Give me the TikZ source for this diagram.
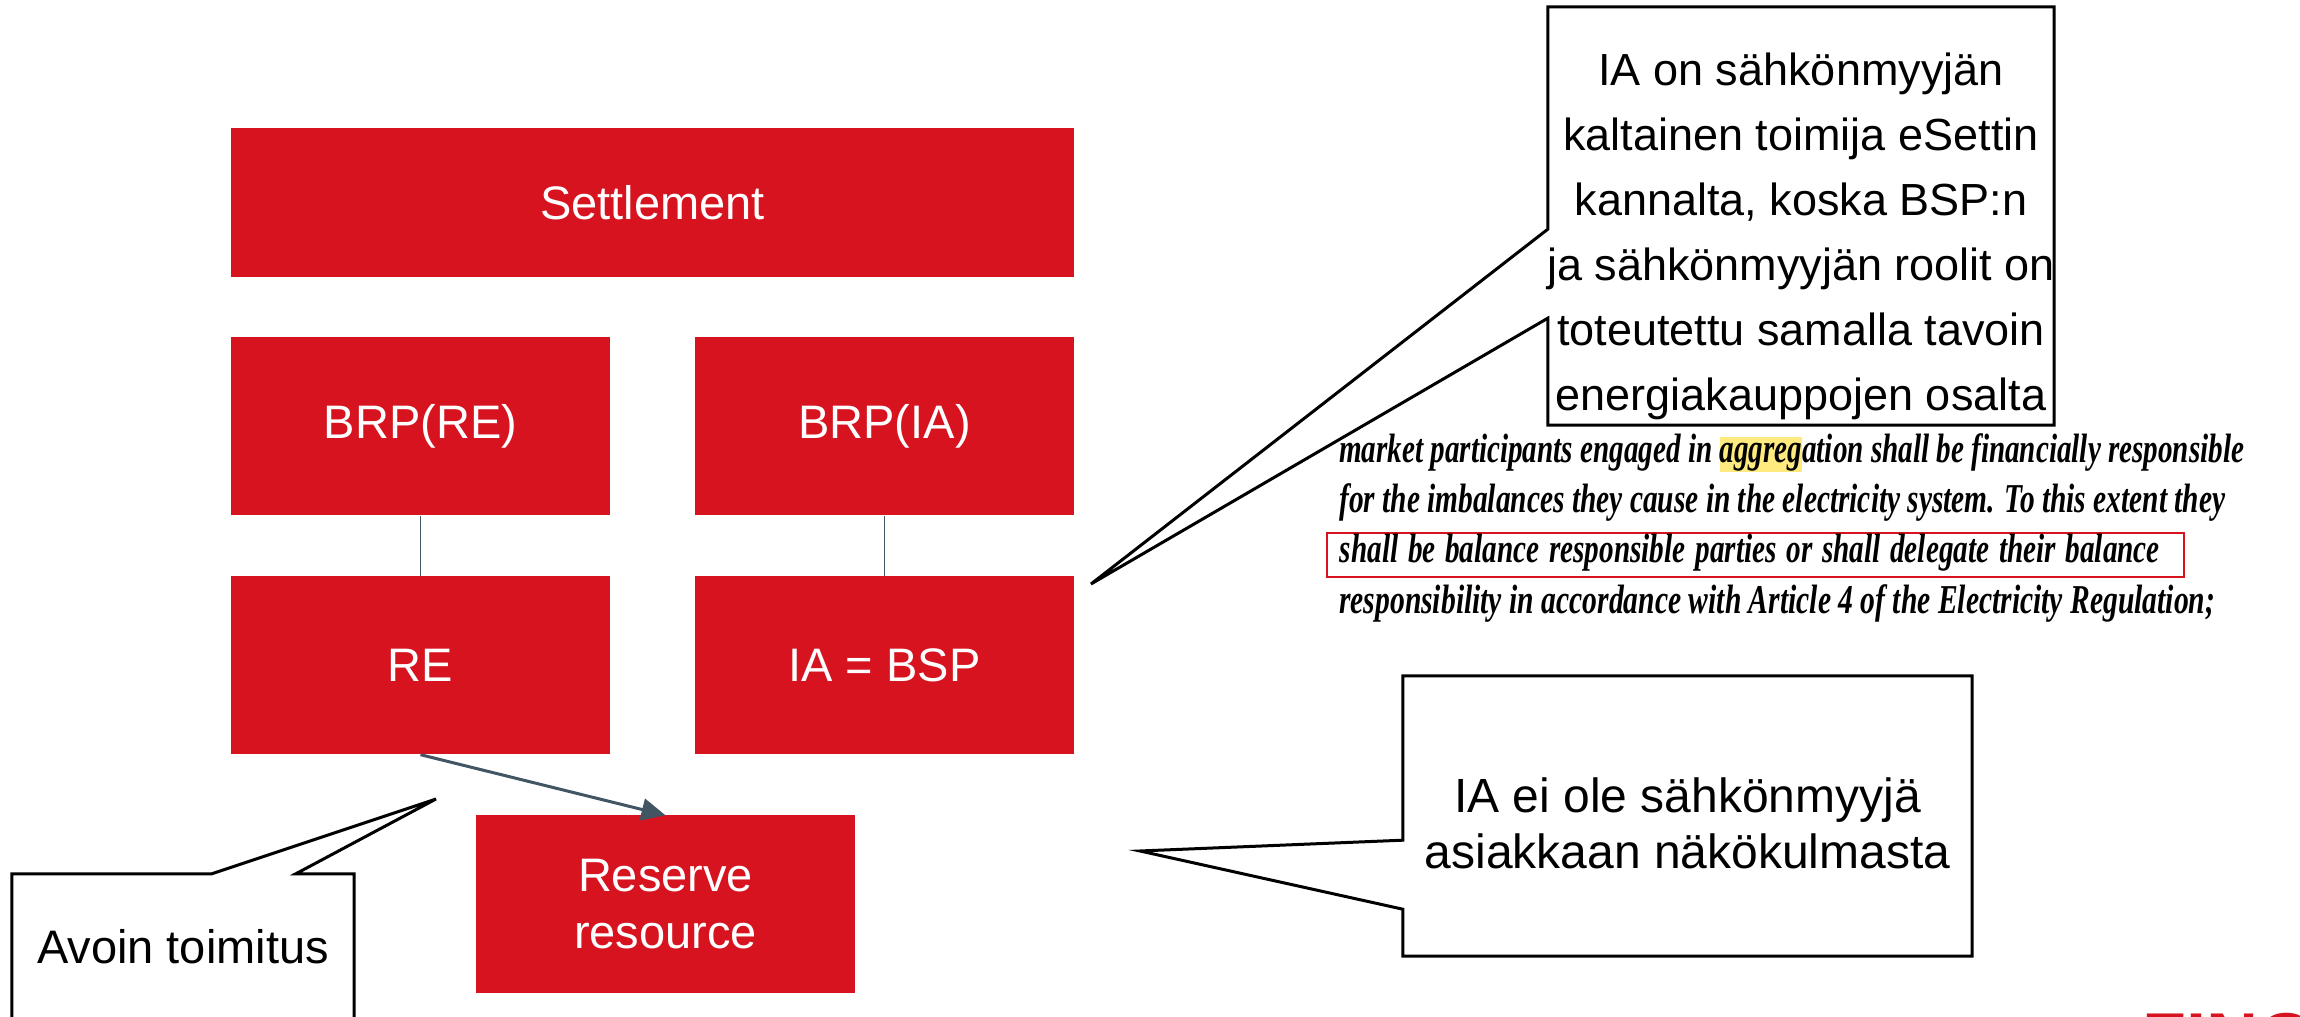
\documentclass[tikz,border=0pt]{standalone}
\usepackage{fontspec}
\usepackage{graphicx}
\setmainfont{Liberation Sans}
\newfontfamily\quotefont{Liberation Serif}
\usetikzlibrary{positioning, arrows.meta, calc}

\definecolor{rolered}{RGB}{214,19,31}
\definecolor{linkgray}{RGB}{66,85,99}
\definecolor{marker}{RGB}{255,234,128}
\setlength{\fboxsep}{0pt}

\begin{document}
\begin{tikzpicture}[x=1pt, y=1pt, node distance=239pt and 464pt, on grid,
  role/.style={fill=rolered, text=white, minimum width=379pt, minimum height=178pt,
    inner sep=0pt, align=center, font=\fontsize{47}{57}\selectfont},
  note/.style={align=center, inner sep=0pt, text=black},
  bubble/.style={draw=black, line width=3pt, line join=miter},
  quoteline/.style={anchor=base west, inner sep=0pt,
    font=\quotefont\bfseries\itshape\fontsize{41}{46}\selectfont}]
  \useasboundingbox (0,0) rectangle (2300,1017);

  % roles
  \node[role, minimum width=843pt, minimum height=149pt] (settle) at (652.5,814.5) {Settlement};
  \node[role] (brpre) at (420.5,590.5) {BRP(RE)};
  \node[role] (brpia) [right=of brpre] {BRP(IA)};
  \node[role] (re) [below=of brpre] {RE};
  \node[role] (bsp) [below=of brpia] {IA = BSP};
  \node[role] (res) [below right=239pt and 245pt of re] {Reserve\\resource};

  \draw[linkgray, line width=1.5pt] (brpre) -- (re);
  \draw[linkgray, line width=1.5pt] (brpia) -- (bsp);
  \draw[linkgray, line width=3pt, -{Triangle[length=24pt, width=22pt]}] (re.south) -- (res.north);

  % callouts
  \node[note, minimum width=506pt, minimum height=418pt] (esett) at (1801,801) {};
  \node[note, font=\fontsize{45}{65}\selectfont] (esetttext) at ($(esett.center)+(0,-20)$)
    {IA on sähkönmyyjän\\kaltainen toimija eSettin\\kannalta, koska BSP:n\\ja sähkönmyyjän roolit on\\toteutettu samalla tavoin\\energiakauppojen osalta};
  \coordinate (esetttip) at (1091,433);
  \draw[bubble] (esett.south west) -- (esett.south east) -- (esett.north east) -- (esett.north west)
    -- ($(esett.south west)+(0,196)$) -- (esetttip) -- ($(esett.south west)+(0,107)$) -- cycle;

  \node[note, minimum width=569pt, minimum height=280pt] (seller) at (1687.5,201) {};
  \node[note, font=\fontsize{48}{56}\selectfont] (sellertext) at ($(seller.center)+(0,-7)$)
    {IA ei ole sähkönmyyjä\\asiakkaan näkökulmasta};
  \coordinate (sellertip) at (1140,166);
  \draw[bubble] (seller.south west) -- (seller.south east) -- (seller.north east) -- (seller.north west)
    -- ($(seller.south west)+(0,116)$) -- (sellertip) -- ($(seller.south west)+(0,47)$) -- cycle;

  \node[note, font=\fontsize{47}{57}\selectfont, minimum width=342pt, minimum height=146pt] (open) at (183,70) {Avoin toimitus};
  \coordinate (opentip) at (436,218);
  \draw[bubble] (open.north west) -- ($(open.north west)+(200,0)$) -- (opentip) -- ($(open.north west)+(284,0)$)
    -- (open.north east) -- (open.south east) -- (open.south west) -- cycle;

  % quoted directive text
  \node[quoteline] (q1) at (1339,554) {\resizebox{905pt}{\height}{market participants engaged in \colorbox{marker}{\rule[-6pt]{0pt}{32pt}aggreg}ation shall be financially responsible}};
  \node[quoteline] (q2) at (1339,504) {\resizebox{886pt}{\height}{for the imbalances they cause in the electricity system. To this extent they}};
  \node[quoteline, draw=rolered, line width=1.6pt, inner xsep=13pt, text width=831pt, align=left,
    text height=30pt, text depth=14pt] (q3) at (1326,454) {\resizebox{820pt}{\height}{shall be balance responsible parties or shall delegate their balance}};
  \node[quoteline] (q4) at (1339,403) {\resizebox{876pt}{\height}{responsibility in accordance with Article 4 of the Electricity Regulation;}};

  % logo, cut by the page edge
  \node[anchor=north west, inner sep=0pt, text=rolered, font=\bfseries\fontsize{72}{72}\selectfont] (logo) at (2142,4) {FINGRID};
\end{tikzpicture}
\end{document}
